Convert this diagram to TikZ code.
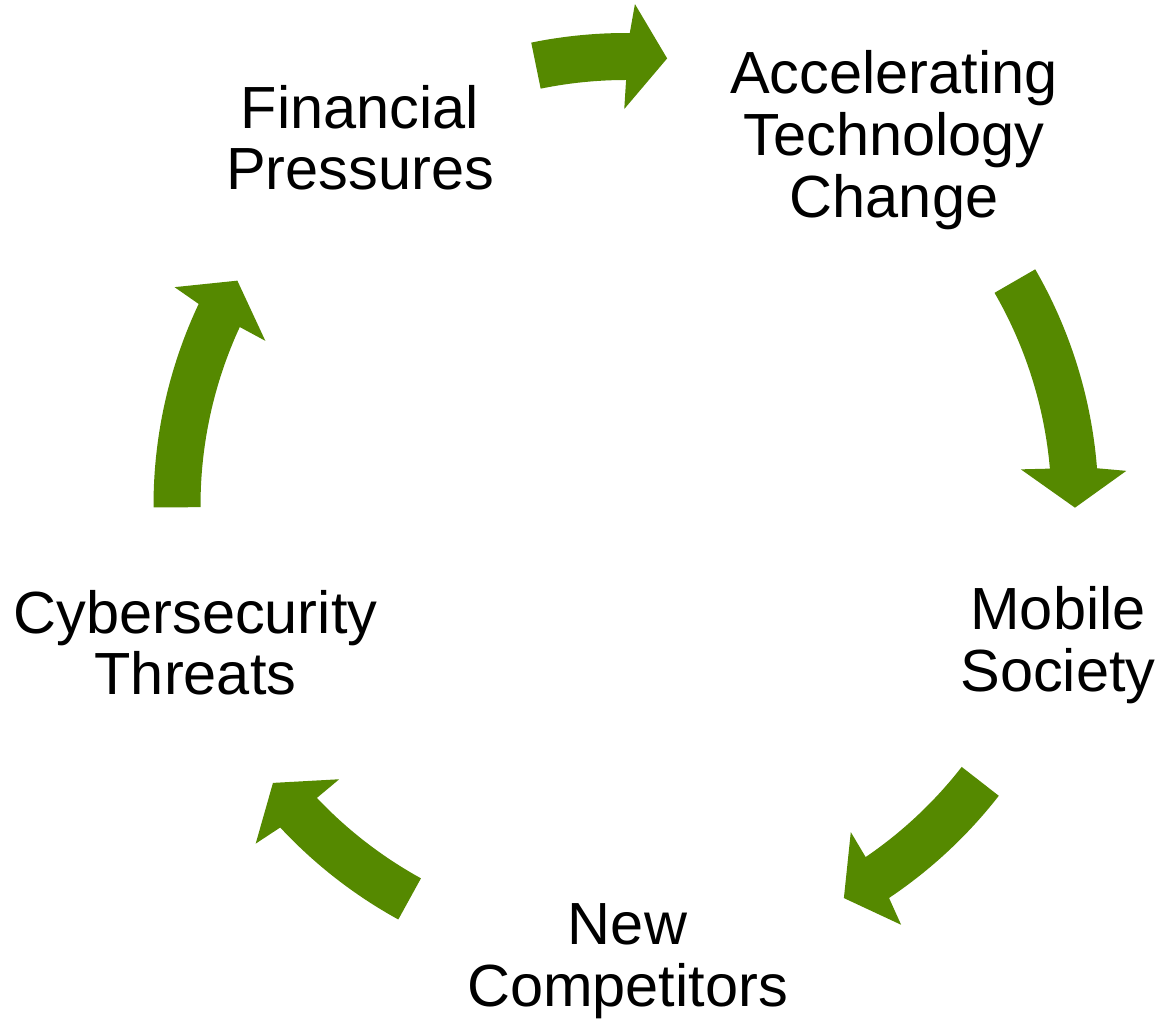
\documentclass[tikz,border=0pt]{standalone}
\usepackage{fontspec}
\setmainfont{Liberation Sans}
\definecolor{cyclegreen}{RGB}{85,137,0}
\tikzset{
  lbl/.style={anchor=base, inner sep=0pt, font=\fontsize{59.5}{62}\selectfont, text=black},
  cyc/.style={fill=cyclegreen, draw=none}
}
% #1 = tail angle, #2 = angle where the shaft ends (clockwise arrow)
\newcommand\cycarrow[2]{%
  \pgfmathsetmacro\cyTail{#1}%
  \pgfmathsetmacro\cyEo{#2-0.2}%
  \pgfmathsetmacro\cyEi{#2+0.25}%
  \pgfmathsetmacro\cyHo{#2-0.76}%
  \pgfmathsetmacro\cyHi{#2+0.51}%
  \pgfmathsetmacro\cyTip{#2-5}%
  \fill[cyc] (\cyTail:472.5) arc[start angle=\cyTail, end angle=\cyEo, radius=472.5pt]
    -- (\cyHo:501.5) -- (\cyTip:449) -- (\cyHi:396.5) -- (\cyEi:425.5)
    arc[start angle=\cyEi, end angle=\cyTail, radius=425.5pt] -- cycle;%
}
\begin{document}
\begin{tikzpicture}[x=1pt,y=1pt]
\useasboundingbox (0,0) rectangle (1159,1022);
\coordinate (ctr) at (626,516.5);
% labels
\node[lbl] (fp1) at (360,893.7) {Financial};
\node[lbl] (fp2) at (360,832) {Pressures};
\node[lbl] (atc1) at (894,928.7) {Accelerating};
\node[lbl] (atc2) at (894,866.5) {Technology};
\node[lbl] (atc3) at (894,804.5) {Change};
\node[lbl] (ms1) at (1058,392) {Mobile};
\node[lbl] (ms2) at (1058,330) {Society};
\node[lbl] (nc1) at (627.5,77) {New};
\node[lbl] (nc2) at (627.5,15.3) {Competitors};
\node[lbl] (ct1) at (195.5,388.7) {Cybersecurity};
\node[lbl] (ct2) at (195.5,327) {Threats};
% curved arrows
\begin{scope}[shift={(ctr)}]
  \cycarrow{101.57}{89.74}
  \cycarrow{29.99}{4.72}
  \cycarrow{-37.91}{-55.97}
  \cycarrow{-118.81}{-136.84}
  \cycarrow{180.23}{154.95}
\end{scope}
\end{tikzpicture}
\end{document}
